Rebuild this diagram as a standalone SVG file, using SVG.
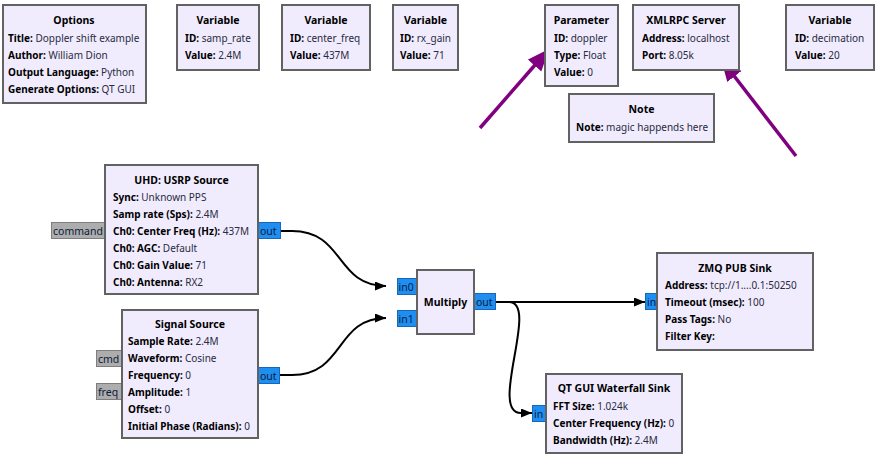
<svg xmlns="http://www.w3.org/2000/svg" width="882" height="473" viewBox="0 0 882 473">
  <style>
    .blk { fill: #f0ecfe; stroke: #626262; stroke-width: 2; }
    text { font-family: "Noto Sans", "Open Sans", "DejaVu Sans", sans-serif; font-size: 10px; fill: #000; }
    .t { font-weight: bold; text-anchor: middle; font-size: 10.5px; }
    .k { font-weight: bold; }
    .v { fill: #2a2a40; }
    .pin { fill: #1f8ef1; stroke: #1767b8; stroke-width: 1; }
    .pmsg { fill: #adadad; stroke: #7e7e7e; stroke-width: 1; }
    .pt { font-size: 10.5px; fill: #0a1a3a; }
    .conn { fill: none; stroke: #000; stroke-width: 2; }
    .note-arrow { fill: none; stroke: #800080; stroke-width: 3.5; }
  </style>
  <defs>
    <marker id="ah" markerUnits="userSpaceOnUse" markerWidth="12" markerHeight="10" refX="11" refY="4.5" orient="auto">
      <path d="M0,0 L11,4.5 L0,9 z" fill="#000"/>
    </marker>
    <marker id="ph" markerUnits="userSpaceOnUse" markerWidth="24" markerHeight="20" refX="22" refY="9" orient="auto">
      <path d="M0,0 L22,9 L0,18 z" fill="#800080"/>
    </marker>
  </defs>

  <!-- connections -->
  <g id="connectors">
    <path class="conn" d="M280,231 L292,231 C345,231 335,286 386,286" marker-end="url(#ah)"/>
    <path class="conn" d="M279,375 L292,375 C345,375 335,318 386,318" marker-end="url(#ah)"/>
    <path class="conn" d="M495,302 L645,302" marker-end="url(#ah)"/>
    <path class="conn" d="M495,302 L509,302 C540,302 488,413 521,413 L532,413" marker-end="url(#ah)"/>
    <path class="note-arrow" d="M480,128 L549,49" marker-end="url(#ph)"/>
    <path class="note-arrow" d="M796,156 L721,59" marker-end="url(#ph)"/>
  </g>

  <g id="options">
    <rect class="blk" x="3" y="5" width="143" height="98"/>
    <text class="t" x="74" y="24">Options</text>
    <text x="8" y="42"><tspan class="k">Title:</tspan> <tspan class="v">Doppler shift example</tspan></text>
    <text x="8" y="59"><tspan class="k">Author:</tspan> <tspan class="v">William Dion</tspan></text>
    <text x="8" y="76"><tspan class="k">Output Language:</tspan> <tspan class="v">Python</tspan></text>
    <text x="8" y="93"><tspan class="k">Generate Options:</tspan> <tspan class="v">QT GUI</tspan></text>
  </g>

  <g id="var_samp_rate">
    <rect class="blk" x="177" y="5" width="82" height="65"/>
    <text class="t" x="218" y="24">Variable</text>
    <text x="185" y="42"><tspan class="k">ID:</tspan> <tspan class="v">samp_rate</tspan></text>
    <text x="185" y="59"><tspan class="k">Value:</tspan> <tspan class="v">2.4M</tspan></text>
  </g>

  <g id="var_center_freq">
    <rect class="blk" x="282" y="5" width="88" height="65"/>
    <text class="t" x="326" y="24">Variable</text>
    <text x="290" y="42"><tspan class="k">ID:</tspan> <tspan class="v">center_freq</tspan></text>
    <text x="290" y="59"><tspan class="k">Value:</tspan> <tspan class="v">437M</tspan></text>
  </g>

  <g id="var_rx_gain">
    <rect class="blk" x="393" y="5" width="65" height="65"/>
    <text class="t" x="425.5" y="24">Variable</text>
    <text x="400" y="42"><tspan class="k">ID:</tspan> <tspan class="v">rx_gain</tspan></text>
    <text x="400" y="59"><tspan class="k">Value:</tspan> <tspan class="v">71</tspan></text>
  </g>

  <g id="param_doppler">
    <rect class="blk" x="545" y="5" width="73" height="81"/>
    <text class="t" x="581.5" y="24">Parameter</text>
    <text x="554" y="42"><tspan class="k">ID:</tspan> <tspan class="v">doppler</tspan></text>
    <text x="554" y="59"><tspan class="k">Type:</tspan> <tspan class="v">Float</tspan></text>
    <text x="554" y="76"><tspan class="k">Value:</tspan> <tspan class="v">0</tspan></text>
  </g>

  <g id="xmlrpc_server">
    <rect class="blk" x="633" y="5" width="106" height="65"/>
    <text class="t" x="686" y="24">XMLRPC Server</text>
    <text x="642" y="42"><tspan class="k">Address:</tspan> <tspan class="v">localhost</tspan></text>
    <text x="642" y="59"><tspan class="k">Port:</tspan> <tspan class="v">8.05k</tspan></text>
  </g>

  <g id="var_decimation">
    <rect class="blk" x="786" y="5" width="88" height="65"/>
    <text class="t" x="830" y="24">Variable</text>
    <text x="795" y="42"><tspan class="k">ID:</tspan> <tspan class="v">decimation</tspan></text>
    <text x="795" y="59"><tspan class="k">Value:</tspan> <tspan class="v">20</tspan></text>
  </g>

  <g id="note">
    <rect class="blk" x="569" y="94" width="145" height="48"/>
    <text class="t" x="641.5" y="113">Note</text>
    <text x="576" y="131"><tspan class="k">Note:</tspan> <tspan class="v">magic happends here</tspan></text>
  </g>

  <g id="usrp_source">
    <rect class="pmsg" x="51.5" y="222.5" width="54" height="16"/>
    <text class="pt" x="53" y="235">command</text>
    <rect class="pin" x="258.5" y="222.5" width="22" height="16"/>
    <text class="pt" x="260" y="235">out</text>
    <rect class="blk" x="105" y="165" width="153" height="129"/>
    <text class="t" x="181.5" y="184">UHD: USRP Source</text>
    <text x="113" y="201"><tspan class="k">Sync:</tspan> <tspan class="v">Unknown PPS</tspan></text>
    <text x="113" y="218"><tspan class="k">Samp rate (Sps):</tspan> <tspan class="v">2.4M</tspan></text>
    <text x="113" y="235"><tspan class="k">Ch0: Center Freq (Hz):</tspan> <tspan class="v">437M</tspan></text>
    <text x="113" y="252"><tspan class="k">Ch0: AGC:</tspan> <tspan class="v">Default</tspan></text>
    <text x="113" y="269"><tspan class="k">Ch0: Gain Value:</tspan> <tspan class="v">71</tspan></text>
    <text x="113" y="286"><tspan class="k">Ch0: Antenna:</tspan> <tspan class="v">RX2</tspan></text>
  </g>

  <g id="signal_source">
    <rect class="pmsg" x="96.5" y="350.5" width="26" height="16"/>
    <text class="pt" x="98" y="363">cmd</text>
    <rect class="pmsg" x="96.5" y="383.5" width="26" height="16"/>
    <text class="pt" x="98" y="396">freq</text>
    <rect class="pin" x="258.5" y="367.5" width="21" height="16"/>
    <text class="pt" x="260" y="380">out</text>
    <rect class="blk" x="122" y="310" width="136" height="128"/>
    <text class="t" x="190" y="328">Signal Source</text>
    <text x="128" y="345"><tspan class="k">Sample Rate:</tspan> <tspan class="v">2.4M</tspan></text>
    <text x="128" y="362"><tspan class="k">Waveform:</tspan> <tspan class="v">Cosine</tspan></text>
    <text x="128" y="379"><tspan class="k">Frequency:</tspan> <tspan class="v">0</tspan></text>
    <text x="128" y="396"><tspan class="k">Amplitude:</tspan> <tspan class="v">1</tspan></text>
    <text x="128" y="413"><tspan class="k">Offset:</tspan> <tspan class="v">0</tspan></text>
    <text x="128" y="430"><tspan class="k">Initial Phase (Radians):</tspan> <tspan class="v">0</tspan></text>
  </g>

  <g id="multiply">
    <rect class="pin" x="397.5" y="278.5" width="20" height="16"/>
    <text class="pt" x="398.5" y="291">in0</text>
    <rect class="pin" x="397.5" y="310.5" width="20" height="16"/>
    <text class="pt" x="398.5" y="323">in1</text>
    <rect class="pin" x="474.5" y="293.5" width="21" height="16"/>
    <text class="pt" x="476" y="306">out</text>
    <rect class="blk" x="417" y="270" width="57" height="64"/>
    <text class="t" x="445.5" y="306">Multiply</text>
  </g>

  <g id="zmq_pub_sink">
    <rect class="pin" x="645.5" y="293.5" width="12" height="16"/>
    <text class="pt" x="647" y="306">in</text>
    <rect class="blk" x="657" y="253" width="156" height="97"/>
    <text class="t" x="735" y="272">ZMQ PUB Sink</text>
    <text x="665" y="289"><tspan class="k">Address:</tspan> <tspan class="v">tcp://1....0.1:50250</tspan></text>
    <text x="665" y="306"><tspan class="k">Timeout (msec):</tspan> <tspan class="v">100</tspan></text>
    <text x="665" y="323"><tspan class="k">Pass Tags:</tspan> <tspan class="v">No</tspan></text>
    <text x="665" y="340"><tspan class="k">Filter Key:</tspan></text>
  </g>

  <g id="waterfall_sink">
    <rect class="pin" x="532.5" y="405.5" width="14" height="16"/>
    <text class="pt" x="534" y="418">in</text>
    <rect class="blk" x="546" y="374" width="136" height="79"/>
    <text class="t" x="614" y="392">QT GUI Waterfall Sink</text>
    <text x="553" y="410"><tspan class="k">FFT Size:</tspan> <tspan class="v">1.024k</tspan></text>
    <text x="553" y="427"><tspan class="k">Center Frequency (Hz):</tspan> <tspan class="v">0</tspan></text>
    <text x="553" y="444"><tspan class="k">Bandwidth (Hz):</tspan> <tspan class="v">2.4M</tspan></text>
  </g>
</svg>
